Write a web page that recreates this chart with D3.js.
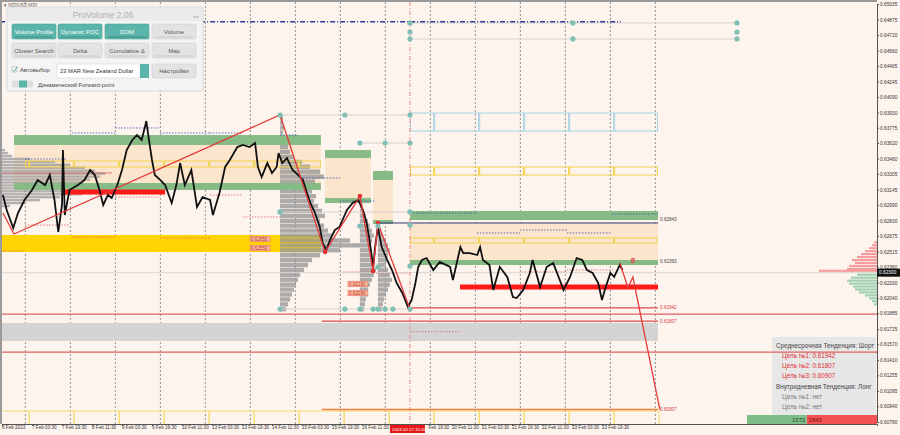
<!DOCTYPE html>
<html><head><meta charset="utf-8">
<script src="https://cdn.jsdelivr.net/npm/d3@7"></script>
<style>
html,body{margin:0;padding:0;background:#fdf4ee;}
svg{display:block;font-family:"Liberation Sans",Arial,sans-serif;}
</style></head>
<body><svg id="c" width="900" height="435"></svg>
<script>
// ---------- DATA ----------
const priceHours = [0.5,2.5,6,8.5,12,16,19,23,25.5,28,30,32,32.5,33.5,36,40.5,44,47,49.5,52,54,56.5,58.5,61.5,64,66.5,69.5,72,74.5,77,78,80,81.5,84.5,87,90.5,93,95,97.5,101,104,107,111,112.5,116,119,121.5,125.5,128.5,132,135,136.5,138.5,141.5,144,146.5,147.5,149.5,152,155,158,160.5,162.5,164.5,167,169.5,171,173,175,177.5,180,184,187,190,192.5,194.5,196,198,199,200.5,202.5,205.5,208,210.5,213.5,215,216.5,218.5,220.5,222,224,226.5,230,233.5,239,240.5,244.5,246,249.5,253.5,255,256.5,260,262,265.5,269.5,272.5,274.5,278,281.5,283,287,290.5,294,297.5,299.5,303,306.5,309.5,312,315,318,320,321.5,324.5,326.5,329.5,331];
const priceValues = [0.63091,0.62938,0.62755,0.62907,0.63040,0.63142,0.63243,0.63192,0.63294,0.63040,0.62714,0.62989,0.63549,0.62887,0.63142,0.63192,0.63243,0.63345,0.63294,0.63142,0.62989,0.63091,0.63060,0.63192,0.63345,0.63549,0.63651,0.63701,0.63651,0.63844,0.63701,0.63447,0.63294,0.63243,0.63192,0.63009,0.63192,0.63416,0.63192,0.63345,0.62968,0.63070,0.63040,0.62887,0.63111,0.63376,0.63447,0.63579,0.63600,0.63579,0.63620,0.63376,0.63274,0.63416,0.63315,0.63376,0.63518,0.63416,0.63467,0.63345,0.63294,0.63243,0.63121,0.63009,0.62907,0.62765,0.62602,0.62531,0.62633,0.62734,0.62765,0.62938,0.63009,0.63040,0.62938,0.62806,0.62633,0.62358,0.62561,0.62765,0.62561,0.62429,0.62327,0.62195,0.62093,0.62022,0.61951,0.62022,0.62195,0.62358,0.62429,0.62449,0.62327,0.62409,0.62358,0.62225,0.62561,0.62500,0.62500,0.62480,0.62561,0.62429,0.62378,0.62124,0.62358,0.62256,0.62052,0.62042,0.62124,0.62297,0.62429,0.62154,0.62358,0.62398,0.62225,0.62124,0.62256,0.62449,0.62429,0.62327,0.62297,0.62195,0.62022,0.62124,0.62297,0.62256,0.62378,0.62327];

const xTickHours = [0,16,32,48,64,80,96,112,128,144,160,176,192,208,224,240,256,272,288,304,320];
const xTickLabels = ["6 Feb 2023","7 Feb 03:30","7 Feb 19:30","8 Feb 11:30","9 Feb 03:30","9 Feb 19:30","10 Feb 11:30","13 Feb 03:30","13 Feb 19:30","14 Feb 11:30","15 Feb 03:30","15 Feb 19:30","16 Feb 11:30","","Feb 19:30","20 Feb 11:30","21 Feb 03:30","21 Feb 19:30","22 Feb 11:30","23 Feb 03:30","23 Feb 19:30"];
const yTickValues = [0.65035,0.64875,0.64720,0.64560,0.64405,0.64245,0.64090,0.63930,0.63775,0.63620,0.63460,0.63305,0.63145,0.62990,0.62830,0.62675,0.62515,0.62360,0.62200,0.62040,0.61885,0.61725,0.61570,0.61410,0.61255,0.61095,0.60940,0.60780];

const dayLineHours = [12.5,36.5,60.5,84.5,108.5,132.5,156.5,180.5,204.5,228.5,252.5,276.5,300.5,324.5,348.5];
const sessionHours = [14.5,38.5,62.5,86.5,110.5,134.5,158.5,182.5,206.5,230.5,254.5,278.5,302.5,326.5,350.5];

// zones: [h1, h2, top, bottom]
const peachZones = [[6.4,170.1,0.63600,0.63182],[172.3,196.8,0.63467,0.63060],[197.9,208.5,0.63243,0.62836],[217.6,349.9,0.62806,0.62429]];
const greenZones = [[6.4,170.1,0.63701,0.63600],[6.4,170.1,0.63213,0.63142],[172.3,196.8,0.63549,0.63467],[172.3,196.8,0.63060,0.63009],[197.9,208.5,0.63335,0.63243],[197.9,208.5,0.62836,0.62795],[217.6,349.9,0.62928,0.62836],[217.6,349.9,0.62429,0.62378]];
const goldZones = [[-1,170.1,0.62683,0.62510]];
const grayZones = [[-1,349.9,0.61788,0.61605]];
const redBars = [[32.5,87,0.63121],[244.3,349.9,0.62154]];
const outlineRows = [[12.3,170.1,0.63437,0.63376,"#f2d24a"],[217.6,349.9,0.62653,0.62602,"#f2d24a"],[217.6,349.9,0.63376,0.63294,"#f2d24a"],[217.6,349.9,0.63925,0.63742,"#a9d3e6"]];

const blueDotted = [[12.3,34.7,0.63457],[37.3,60.3,0.63722],[60.3,84.3,0.63773],[84.3,110.9,0.63722],[110.9,128.5,0.63722],[148.3,157.3,0.63701],[158.9,180.3,0.63264],[180.3,198.9,0.63030],[217.6,253.3,0.62907],[253.3,276.3,0.62704],[276.3,301.3,0.62734],[301.3,325.3,0.62704],[325.3,349.9,0.62897]];
const redDotted = [[0,12.3,0.62520],[12.3,36.3,0.62785],[37.3,60.3,0.62663],[60.3,84.3,0.63070],[84.3,110.9,0.62653],[110.9,128.5,0.63091],[128.5,148.3,0.62867],[181.9,197.9,0.62307],[197.9,217.6,0.62297],[277.3,301.3,0.62307],[301.3,325.9,0.62327],[217.6,244,0.61700]];

const waveHours = [0.5,6.4,148.3,172.3,190.9,197.9,200.5,217.6];
const wavePrices = [0.62907,0.62694,0.63905,0.62510,0.63080,0.62317,0.62806,0.61930];
const forecastHours = [329.6,333.9,336.5,350.9];
const forecastPrices = [0.62398,0.62144,0.62256,0.60907];

const targetLevels = [0.61942,0.61807,0.60907];
const fullRedLevels = [0.61879,0.61492];
const currentPrice = 0.62300;
const topBlueLevel = 0.64855;
const navyLevel = 0.62806;

const dotHours = [148.3,182.9,217.6,190.9,204.3,217.6,148.3,217.6,217.6,190.9,200.5,217.6,200.5,148.3,182.9,190.9,197.9,200.5,204.3,208.5,217.6,217.6,217.6,217.6,304.5,304.5,392,392,392];
const dotPrices = [0.63905,0.63905,0.63905,0.63620,0.63620,0.63620,0.62918,0.62918,0.62785,0.62775,0.62775,0.62368,0.62358,0.61930,0.61930,0.61930,0.61930,0.61930,0.61930,0.61930,0.61930,0.64842,0.64750,0.64679,0.64842,0.64679,0.64842,0.64750,0.64679];
const connectors = [[148.3,217.6,0.63905],[190.9,217.6,0.63620],[148.3,217.6,0.61930],[217.6,392,0.64842],[217.6,392,0.64679],[148.3,217.6,0.62918]];

const vpLeftPrices = [0.63560,0.63530,0.63500,0.63470,0.63440,0.63410,0.63380,0.63350,0.63320,0.63290,0.63260,0.63230,0.63200,0.63170,0.63140,0.63110,0.63080,0.63050,0.63020,0.62990];
const vpLeftVol = [5,8,12,30,55,70,85,95,105,100,90,80,88,92,78,82,60,40,25,10];
const vpMidPrices = [0.63900,0.63850,0.63800,0.63750,0.63700,0.63650,0.63600,0.63550,0.63500,0.63450,0.63400,0.63350,0.63300,0.63250,0.63200,0.63150,0.63100,0.63050,0.63000,0.62950,0.62900,0.62850,0.62800,0.62750,0.62700,0.62650,0.62600,0.62550,0.62500,0.62450,0.62400,0.62350,0.62300,0.62250,0.62200,0.62150,0.62100,0.62050,0.62000,0.61950];
const vpMidVol = [3,3,4,3,5,6,8,10,14,22,30,40,44,35,28,32,36,34,38,42,45,40,44,48,52,70,80,60,40,32,28,24,20,18,16,14,12,10,8,6];
const vp3Prices = [0.63000,0.62950,0.62900,0.62850,0.62800,0.62750,0.62700,0.62650,0.62600,0.62550,0.62500,0.62450,0.62400,0.62350,0.62300,0.62250,0.62200,0.62150,0.62100,0.62050,0.62000,0.61950];
const vp3Vol = [3,4,6,8,10,12,14,12,10,9,10,12,14,16,14,12,10,8,8,6,5,4];
const vp4Prices = [0.62750,0.62700,0.62650,0.62600,0.62550,0.62500,0.62450,0.62400,0.62350,0.62300,0.62250,0.62200,0.62150,0.62100,0.62050,0.62000,0.61950];
const vp4Vol = [3,5,8,10,12,10,9,8,10,12,14,12,10,8,6,5,4];
const vpRightSellPrices = [0.62620,0.62590,0.62560,0.62530,0.62500,0.62470,0.62440,0.62410,0.62380,0.62350,0.62330];
const vpRightSellVol = [3,5,8,12,16,20,25,22,28,30,58];
const vpRightBuyPrices = [0.62290,0.62260,0.62230,0.62200,0.62170,0.62140,0.62110,0.62080,0.62050,0.62020,0.61990];
const vpRightBuyVol = [20,26,30,28,24,22,18,12,8,5,3];

const infoLines = [["Среднесрочная Тенденция: Шорт","#444"],["Цель №1: 0.61942","#e03030"],["Цель №2: 0.61807","#e03030"],["Цель №3: 0.60907","#e03030"],["Внутридневная Тенденция: Лонг","#444"],["Цель №1: нет","#777"],["Цель №2: нет","#777"]];
const deltaBuy = 1572, deltaSell = 1843;

const panelButtons = [["Volume Profile",true],["Dynamic POC",true],["DOM",true],["Volume",false],["Cluster Search",false],["Delta",false],["Cumulative Δ",false],["Map",false]];

// ---------- DRAW ----------
const svg = d3.select("#c");
const x = d3.scaleLinear().domain([0,466.7]).range([2,877]);
const y = d3.scaleLinear().domain([0.60780,0.65035]).range([422,4]);
const vol = d3.scaleLinear().domain([0,100]).range([0,100]);
const stepPx = (a,b)=>Math.abs(y(a)-y(b));

svg.append("rect").attr("width",900).attr("height",435).attr("fill","#fdf4ee");
svg.append("defs").append("clipPath").attr("id","pc").append("rect").attr("x",2).attr("y",2).attr("width",875).attr("height",422);
const g = svg.append("g").attr("clip-path","url(#pc)");

g.selectAll(".dl").data(dayLineHours).join("line")
  .attr("x1",d=>x(d)).attr("x2",d=>x(d)).attr("y1",2).attr("y2",424)
  .attr("stroke","#a0a0a0").attr("stroke-width",1.2).attr("stroke-dasharray","2,2");

function zones(data, fill, op){
  g.selectAll(null).data(data).join("rect")
   .attr("x",d=>x(d[0])).attr("width",d=>x(d[1])-x(d[0]))
   .attr("y",d=>y(d[2])).attr("height",d=>y(d[3])-y(d[2]))
   .attr("fill",fill).attr("opacity",op);
}
zones(peachZones,"#fbe5cc",1);
zones(grayZones,"#d4d4d4",1);

function vp(prices, vols, h, dir, color, op, step){
  g.selectAll(null).data(prices).join("rect")
   .attr("x",(d,i)=> dir>0 ? x(h) : x(h)-vol(vols[i]))
   .attr("width",(d,i)=>vol(vols[i]))
   .attr("y",d=>y(d)).attr("height",step)
   .attr("fill",color).attr("opacity",op);
}
zones(goldZones,"#ffd400",1);
vp(vpLeftPrices,vpLeftVol,-1,1,"#9a9a9a",0.75,stepPx(0.6356,0.6353)-0.6);
vp(vpMidPrices,vpMidVol,148.3,1,"#999999",0.8,stepPx(0.639,0.6385)-0.6);
vp(vp3Prices,vp3Vol,190.9,1,"#999999",0.8,stepPx(0.639,0.6385)-0.6);
vp(vp4Prices,vp4Vol,200.5,1,"#999999",0.8,stepPx(0.639,0.6385)-0.6);
vp(vpRightSellPrices,vpRightSellVol,466.7,-1,"#f08080",0.75,stepPx(0.6262,0.6259)-0.8);
vp(vpRightBuyPrices,vpRightBuyVol,466.7,-1,"#7fc49a",0.75,stepPx(0.6262,0.6259)-0.8);
zones(greenZones,"#86bb86",1);

outlineRows.forEach(r=>{
  const b=[r[0]].concat(sessionHours.filter(s=>s>r[0]+1&&s<r[1]-1)).concat([r[1]]);
  for(let i=0;i<b.length-1;i++){
    g.append("rect").attr("x",x(b[i])+0.5).attr("width",x(b[i+1])-x(b[i])-1)
     .attr("y",y(r[2])).attr("height",y(r[3])-y(r[2]))
     .attr("fill","none").attr("stroke",r[4]).attr("stroke-width",1);
  }
});
{
  const b=[-1].concat(sessionHours);
  for(let i=0;i<b.length-1;i++){
    g.append("rect").attr("x",x(b[i])).attr("width",x(b[i+1])-x(b[i]))
     .attr("y",y(0.60892)).attr("height",424-y(0.60892)+2)
     .attr("fill","none").attr("stroke","#f5dc70").attr("stroke-width",1);
  }
}

g.selectAll(null).data(blueDotted).join("line")
 .attr("x1",d=>x(d[0])).attr("x2",d=>x(d[1])).attr("y1",d=>y(d[2])).attr("y2",d=>y(d[2]))
 .attr("stroke","#3a4db0").attr("stroke-width",0.8).attr("stroke-dasharray","1.5,1.5");
g.selectAll(null).data(redDotted).join("line")
 .attr("x1",d=>x(d[0])).attr("x2",d=>x(d[1])).attr("y1",d=>y(d[2])).attr("y2",d=>y(d[2]))
 .attr("stroke","#e06060").attr("stroke-width",0.8).attr("stroke-dasharray","1.5,1.5");

g.append("line").attr("x1",x(-1)).attr("x2",x(58.7)).attr("y1",y(0.63315)).attr("y2",y(0.63315)).attr("stroke","#d06060").attr("stroke-width",0.8);

g.append("line").attr("x1",2).attr("x2",877).attr("y1",y(currentPrice)).attr("y2",y(currentPrice)).attr("stroke","#cfcfcf").attr("stroke-width",0.8);

g.selectAll(null).data(connectors).join("line")
 .attr("x1",d=>x(d[0])).attr("x2",d=>x(d[1])).attr("y1",d=>y(d[2])).attr("y2",d=>y(d[2]))
 .attr("stroke","#d8d0cc").attr("stroke-width",1);

g.append("line").attr("x1",x(-1)).attr("x2",x(330.1)).attr("y1",y(topBlueLevel)).attr("y2",y(topBlueLevel))
 .attr("stroke","#2a3a9a").attr("stroke-width",1.6).attr("stroke-dasharray","5,2,1,2");
g.append("line").attr("x1",x(200.5)).attr("x2",x(349.9)).attr("y1",y(navyLevel)).attr("y2",y(navyLevel)).attr("stroke","#33337a").attr("stroke-width",1);

g.append("line").attr("x1",x(217.6)).attr("x2",x(217.6)).attr("y1",2).attr("y2",424).attr("stroke","#f08a8a").attr("stroke-width",1).attr("stroke-dasharray","4,2,1,2");

g.selectAll(null).data(redBars).join("rect")
 .attr("x",d=>x(d[0])).attr("width",d=>x(d[1])-x(d[0])).attr("y",d=>y(d[2])-2.5).attr("height",5).attr("fill","#ff1a1a");

g.selectAll(null).data(fullRedLevels).join("line")
 .attr("x1",2).attr("x2",877).attr("y1",d=>y(d)).attr("y2",d=>y(d)).attr("stroke","#e06060").attr("stroke-width",1.3);
const tStart=[217.6,170.6,170.6], tCol=["#e04848","#e04848","#f08040"];
g.selectAll(null).data(targetLevels).join("line")
 .attr("x1",(d,i)=>x(tStart[i])).attr("x2",x(349.9)).attr("y1",d=>y(d)).attr("y2",d=>y(d))
 .attr("stroke",(d,i)=>tCol[i]).attr("stroke-width",1.3);
g.selectAll(null).data(targetLevels).join("text")
 .attr("x",x(351)).attr("y",d=>y(d)+1.5).text(d=>d.toFixed(5))
 .attr("font-size",4.6).attr("fill","#d04040");
g.selectAll(null).data([0.62843,0.62393]).join("text")
 .attr("x",x(351)).attr("y",(d,i)=>y([0.62846,0.62415][i])+1.5).text(d=>d.toFixed(5))
 .attr("font-size",4.6).attr("fill","#444");

const line = d3.line().x(d=>x(d[0])).y(d=>y(d[1]));
g.append("path").datum(priceHours.map((h,i)=>[h,priceValues[i]])).attr("d",line)
 .attr("fill","none").attr("stroke","#111").attr("stroke-width",1.8).attr("stroke-linejoin","miter");

g.append("path").datum(waveHours.map((h,i)=>[h,wavePrices[i]])).attr("d",line)
 .attr("fill","none").attr("stroke","#e53a3a").attr("stroke-width",1.3);
g.selectAll(null).data(waveHours.slice(2)).join("circle")
 .attr("cx",d=>x(d)).attr("cy",(d,i)=>y(wavePrices[i+2])).attr("r",2.3).attr("fill","#e53030");
g.append("path").datum(forecastHours.map((h,i)=>[h,forecastPrices[i]])).attr("d",line)
 .attr("fill","none").attr("stroke","#e53a3a").attr("stroke-width",1.3);
g.append("text").attr("x",x(335.5)).attr("y",y(0.62400)).text("8").attr("font-size",7).attr("fill","none").attr("stroke","#e05050").attr("stroke-width",0.6);

g.selectAll(null).data(dotHours).join("circle")
 .attr("cx",d=>x(d)).attr("cy",(d,i)=>y(dotPrices[i])).attr("r",2.6).attr("fill","#7fbfb4");

function tag(h, p, t){
  g.append("rect").attr("x",x(h)).attr("y",y(p)-2.8).attr("width",20).attr("height",5.6).attr("fill","#f8c09c").attr("stroke","#e06060").attr("stroke-width",0.5);
  g.append("text").attr("x",x(h)+1).attr("y",y(p)+1.6).text(t).attr("font-size",4.6).attr("fill","#c03030");
}
tag(132.3,0.62643,"0.62650"); tag(132.3,0.62551,"0.62550");
tag(184.5,0.62185,"0.62180"); tag(184.5,0.62093,"0.62090");

svg.append("rect").attr("x",772).attr("y",337).attr("width",104).attr("height",78).attr("fill","#e7e7e7");
svg.selectAll(".info").data(infoLines).join("text")
 .attr("x",(d,i)=> (i===0||i===4)?776:782).attr("y",(d,i)=>347.5+i*10.3).text(d=>d[0])
 .attr("font-size",6.3).attr("fill",d=>d[1]);
svg.append("line").attr("x1",772).attr("x2",877).attr("y1",y(fullRedLevels[1])).attr("y2",y(fullRedLevels[1])).attr("stroke","#e06060").attr("stroke-width",1.2);
const dx = d3.scaleLinear().domain([0,deltaBuy+deltaSell]).range([747,877]);
svg.append("rect").attr("x",dx(0)).attr("y",415).attr("width",dx(deltaBuy)-dx(0)).attr("height",9).attr("fill","#7dbd87");
svg.append("rect").attr("x",dx(deltaBuy)).attr("y",415).attr("width",dx(deltaBuy+deltaSell)-dx(deltaBuy)).attr("height",9).attr("fill","#f25252");
svg.append("text").attr("x",dx(deltaBuy)-1.5).attr("y",421.8).attr("text-anchor","end").text(deltaBuy).attr("font-size",6).attr("fill","#2a4a2a");
svg.append("text").attr("x",dx(deltaBuy)+1.5).attr("y",421.8).text(deltaSell).attr("font-size",6).attr("fill","#7a1010");

svg.append("rect").attr("x",0).attr("y",0).attr("width",877).attr("height",2).attr("fill","#9a9a9a");
svg.append("rect").attr("x",0).attr("y",0).attr("width",2).attr("height",424).attr("fill","#9a9a9a");

const xa = svg.append("g").attr("transform","translate(0,424)")
 .call(d3.axisBottom(x).tickValues(xTickHours).tickSize(2).tickFormat((d,i)=>xTickLabels[i]));
xa.select(".domain").attr("stroke","#555");
xa.selectAll("text").attr("font-size",4.6).attr("fill","#333").attr("text-anchor","start").attr("dy","0.55em").attr("y",2.5).attr("x",(d,i)=> i===14?6:-0.5);
xa.selectAll("line").attr("stroke","#555");
const ya = svg.append("g").attr("transform","translate(877,0)")
 .call(d3.axisRight(y).tickValues(yTickValues).tickSize(2).tickFormat(d=>d.toFixed(5)));
ya.select(".domain").attr("stroke","#555");
ya.selectAll("text").attr("font-size",4.8).attr("fill","#333").attr("x",3);
ya.selectAll("line").attr("stroke","#555");

svg.append("rect").attr("x",877).attr("y",y(currentPrice)-4).attr("width",23).attr("height",8).attr("fill","#111");
svg.append("text").attr("x",879).attr("y",y(currentPrice)+1.7).text(currentPrice.toFixed(5)).attr("font-size",4.8).attr("fill","#fff");
svg.append("rect").attr("x",x(208)-2).attr("y",425).attr("width",35).attr("height",8).attr("fill","#e81818");
svg.append("text").attr("x",x(208)).attr("y",431).text("2023.02.17 15:00").attr("font-size",4.4).attr("fill","#fff");

svg.append("text").attr("x",4).attr("y",6.5).text("▾ NZDUSD,M30").attr("font-size",4.5).attr("fill","#555");

// ---------- PANEL ----------
const p = svg.append("g").attr("transform","translate(7,7)");
p.append("rect").attr("width",196).attr("height",84).attr("rx",2).attr("fill","#f4f4f4").attr("stroke","#d8d8d8");
p.append("rect").attr("x",1).attr("y",1).attr("width",194).attr("height",13).attr("fill","#ebebeb");
p.append("text").attr("x",96).attr("y",11).attr("text-anchor","middle").text("ProVolume 2.06").attr("font-size",8.5).attr("fill","#b0b0b0");
p.append("line").attr("x1",186).attr("x2",192).attr("y1",10).attr("y2",10).attr("stroke","#aaa");
const bx=[5,51,98,145];
panelButtons.forEach((b,i)=>{
  const r=Math.floor(i/4), c=i%4;
  const gx=bx[c], gy= r===0?17:36;
  p.append("rect").attr("x",gx).attr("y",gy).attr("width",44).attr("height",15).attr("rx",1.5)
   .attr("fill",b[1]?"#5bb5aa":"#e3e3e3").attr("stroke",b[1]?"#4aa498":"#d2d2d2").attr("stroke-width",0.6);
  p.append("text").attr("x",gx+22).attr("y",gy+9.8).attr("text-anchor","middle").text(b[0])
   .attr("font-size",6).attr("fill",b[1]?"#fff":"#555");
  p.append("rect").attr("x",gx+3).attr("y",gy+12.5).attr("width",38).attr("height",1).attr("fill",b[1]?"#3f8f86":"#d0c8c8");
});
p.append("rect").attr("x",5).attr("y",60).attr("width",5).attr("height",5).attr("fill","#fff").attr("stroke","#999").attr("stroke-width",0.5);
p.append("path").attr("d","M5.8,62.5 L7.5,64.5 L10,59.5").attr("fill","none").attr("stroke","#5bb5aa").attr("stroke-width",1);
p.append("text").attr("x",13).attr("y",65).text("Автовыбор").attr("font-size",5.8).attr("fill","#444");
p.append("rect").attr("x",50).attr("y",57).attr("width",83).attr("height",14).attr("fill","#fff").attr("stroke","#d5d5d5").attr("stroke-width",0.6);
p.append("text").attr("x",53).attr("y",66.3).text("23 MAR New Zealand Dollar").attr("font-size",5.8).attr("fill","#333");
p.append("rect").attr("x",133).attr("y",57).attr("width",9).attr("height",14).attr("fill","#5bb5aa");
p.append("rect").attr("x",145).attr("y",57).attr("width",44).attr("height",14).attr("rx",1.5).attr("fill","#e3e3e3").attr("stroke","#d2d2d2").attr("stroke-width",0.6);
p.append("text").attr("x",167).attr("y",66.3).attr("text-anchor","middle").text("Настройки").attr("font-size",6).attr("fill","#555");
p.append("rect").attr("x",5).attr("y",73.5).attr("width",21).attr("height",7).attr("rx",1.5).attr("fill","#dedede");
p.append("rect").attr("x",12).attr("y",73.5).attr("width",8).attr("height",7).attr("fill","#5bb5aa");
p.append("text").attr("x",31).attr("y",79.5).text("Динамический Forward-point").attr("font-size",5.8).attr("fill","#444");
</script></body></html>
